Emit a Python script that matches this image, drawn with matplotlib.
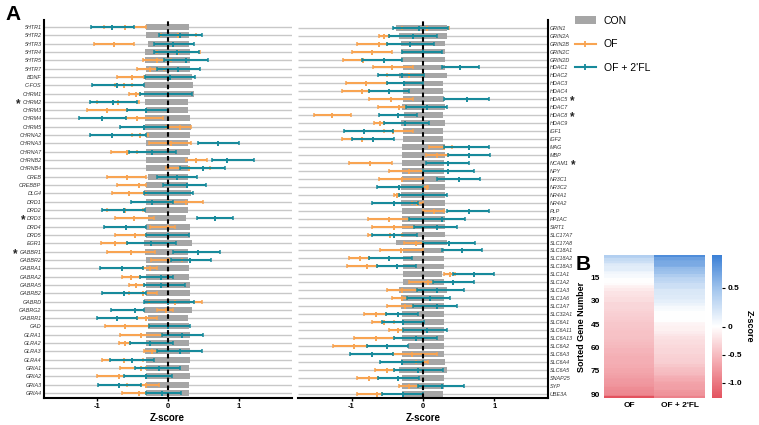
import numpy as np
import matplotlib
matplotlib.use("Agg")
import matplotlib.pyplot as plt
from matplotlib.colors import LinearSegmentedColormap, TwoSlopeNorm
from matplotlib.patches import Patch
from matplotlib.lines import Line2D

plt.rcParams['font.family'] = ['Liberation Sans', 'DejaVu Sans']

# ---------------- data: left panel ----------------
genes_left = ['5HTR1','5HTR2','5HTR3','5HTR4','5HTR5','5HTR7','BDNF','C-FOS','CHRM1','CHRM2',
              'CHRM3','CHRM4','CHRM5','CHRNA2','CHRNA3','CHRNA7','CHRNB2','CHRNB4','CREB','CREBBP',
              'DLG4','DRD1','DRD2','DRD3','DRD4','DRD5','EGR1','GABBR1','GABBR2','GABRA1',
              'GABRA2','GABRA5','GABRB2','GABRD','GABRG2','GABRR1','GAD','GLRA1','GLRA2','GLRA3',
              'GLRA4','GRIA1','GRIA2','GRIA3','GRIA4']
star_left = ['CHRM2', 'DRD3', 'GABBR1']
con_lo_left = [-0.30,-0.31,-0.28,-0.32,-0.32,-0.31,-0.32,-0.34,-0.33,-0.32,
               -0.30,-0.32,-0.32,-0.30,-0.30,-0.30,-0.30,-0.31,-0.28,-0.30,
               -0.33,-0.30,-0.32,-0.28,-0.30,-0.30,-0.34,-0.32,-0.30,-0.30,
               -0.30,-0.30,-0.30,-0.34,-0.34,-0.28,-0.28,-0.30,-0.30,-0.32,
               -0.30,-0.30,-0.30,-0.30,-0.30]
con_hi_left = [0.30,0.30,0.30,0.32,0.32,0.31,0.34,0.36,0.37,0.29,
               0.28,0.32,0.33,0.31,0.29,0.31,0.29,0.29,0.28,0.29,
               0.33,0.29,0.29,0.26,0.31,0.31,0.34,0.29,0.29,0.30,
               0.30,0.31,0.31,0.32,0.34,0.29,0.30,0.31,0.30,0.32,
               0.32,0.30,0.32,0.30,0.30]
of_lo_left = [-0.90,-0.10,-1.04,-0.15,-0.35,-0.44,-0.71,-0.75,-0.55,-1.00,
              -1.14,-0.59,-0.02,-0.50,-0.26,-0.80,0.25,-0.03,-0.86,-0.71,
              -0.78,0.00,-0.85,-0.74,-0.25,-0.75,-0.94,-0.85,-0.23,-0.35,
              -0.65,-0.55,-0.55,-0.27,-0.15,-0.43,-0.88,-0.67,-0.69,-0.33,
              -0.93,-0.67,-1.00,-0.58,-0.65]
of_mid_left = [-0.60,0.15,-0.76,0.15,-0.15,-0.25,-0.50,-0.62,-0.45,-0.70,
               -0.86,-0.44,0.17,-0.39,0.04,-0.57,0.40,0.30,-0.58,-0.41,
               -0.55,0.26,-0.60,-0.47,0.00,-0.46,-0.75,-0.52,0.00,-0.25,
               -0.52,-0.45,-0.35,0.10,-0.02,-0.30,-0.60,-0.37,-0.60,-0.22,
               -0.62,-0.37,-0.68,-0.30,-0.41]
of_hi_left = [-0.31,0.40,-0.47,0.46,0.05,-0.05,-0.33,-0.50,-0.39,-0.40,
              -0.58,-0.07,0.33,-0.28,0.33,-0.44,0.55,0.60,-0.30,-0.30,
              -0.30,0.50,-0.35,-0.20,0.10,-0.30,-0.58,-0.18,0.20,-0.15,
              -0.39,-0.34,-0.15,0.48,0.07,-0.15,-0.27,-0.08,-0.53,-0.15,
              -0.35,-0.30,-0.30,-0.13,-0.30]
fl_lo_left = [-1.08,-0.12,-0.19,-0.19,-0.05,-0.15,-0.32,-1.06,-0.39,-1.09,
              -0.58,-1.25,-0.67,-1.10,0.42,-0.54,0.62,0.17,-0.15,-0.06,
              -0.34,-0.52,-0.92,0.41,-0.90,-0.30,-0.58,0.08,0.05,-0.95,
              -0.39,-0.34,-0.93,-0.34,-0.80,-0.99,-0.27,-0.08,-0.53,-0.15,
              -0.81,-0.46,-0.62,-0.98,-0.30]
fl_mid_left = [-0.79,0.17,0.08,0.13,0.25,0.15,0.03,-0.71,0.00,-0.77,
               -0.30,-0.92,-0.34,-0.79,0.71,-0.22,0.83,0.49,0.13,0.27,
               0.00,-0.22,-0.62,0.67,-0.59,0.00,-0.23,0.42,0.32,-0.65,
               -0.10,-0.10,-0.62,0.00,-0.46,-0.71,0.00,0.20,-0.25,0.17,
               -0.50,-0.13,-0.30,-0.68,-0.08]
fl_hi_left = [-0.48,0.48,0.37,0.44,0.57,0.46,0.38,-0.34,0.34,-0.44,
              0.00,-0.59,0.00,-0.30,1.00,0.11,1.21,0.81,0.41,0.54,
              0.35,0.08,-0.32,0.92,-0.30,0.30,0.11,0.74,0.61,-0.35,
              0.08,0.24,-0.30,0.37,-0.33,-0.43,0.31,0.50,0.07,0.48,
              -0.19,0.17,0.06,-0.37,0.19]

# ---------------- data: right panel ----------------
genes_right = ['GRIN1','GRIN2A','GRIN2B','GRIN2C','GRIN2D','HDAC1','HDAC2','HDAC3','HDAC4','HDAC5',
               'HDAC7','HDAC8','HDAC9','IGF1','IGF2','MAG','MBP','NCAM1','NPY','NR3C1',
               'NR3C2','NR4A1','NR4A2','PLP','PP1AC','SIRT1','SLC17A7','SLC17A8','SLC18A1','SLC18A2',
               'SLC18A3','SLC1A1','SLC1A2','SLC1A3','SLC1A6','SLC1A7','SLC32A1','SLC6A1','SLC6A11','SLC6A13',
               'SLC6A2','SLC6A3','SLC6A4','SLC6A5','SNAP25','SYP','UBE3A']
star_right = ['HDAC5', 'HDAC8', 'NCAM1']
con_lo_right = [-0.38,-0.33,-0.31,-0.31,-0.31,-0.28,-0.33,-0.28,-0.28,-0.28,
                -0.30,-0.26,-0.31,-0.28,-0.28,-0.29,-0.29,-0.29,-0.29,-0.29,
                -0.31,-0.31,-0.31,-0.29,-0.29,-0.29,-0.29,-0.38,-0.28,-0.28,
                -0.28,-0.28,-0.28,-0.33,-0.31,-0.31,-0.29,-0.29,-0.29,-0.29,
                -0.21,-0.29,-0.31,-0.34,-0.29,-0.29,-0.29]
con_hi_right = [0.33,0.33,0.31,0.31,0.31,0.31,0.33,0.28,0.28,0.30,
                0.31,0.28,0.31,0.28,0.28,0.31,0.31,0.29,0.29,0.31,
                0.31,0.31,0.31,0.31,0.31,0.31,0.31,0.33,0.29,0.29,
                0.29,0.27,0.29,0.33,0.29,0.29,0.30,0.30,0.30,0.30,
                0.29,0.30,0.31,0.34,0.30,0.30,0.28]
of_lo_right = [-0.30,-0.62,-0.93,-0.99,-1.12,-0.70,-0.50,-1.08,-1.14,-0.75,
               -0.63,-1.52,-0.68,-0.54,-1.14,0.08,0.04,-1.03,-0.47,-0.61,
               0.00,-0.40,-0.15,0.00,-0.77,-0.71,-0.77,-0.26,-0.60,-1.03,
               -1.06,0.30,-0.19,-0.51,-0.43,-0.51,-0.82,-0.72,-0.48,-0.97,
               -1.26,-0.42,-0.10,-0.67,-0.92,-0.33,-0.93]
of_mid_right = [0.05,-0.55,-0.61,-0.71,-0.84,-0.43,-0.20,-0.80,-0.86,-0.45,
                -0.34,-1.27,-0.60,-0.42,-0.85,0.30,0.20,-0.74,-0.20,-0.30,
                0.05,-0.36,-0.08,0.15,-0.48,-0.41,-0.46,-0.10,-0.31,-0.88,
                -0.78,0.38,0.07,-0.30,-0.30,-0.25,-0.66,-0.55,-0.35,-0.66,
                -0.97,-0.15,0.00,-0.50,-0.75,-0.20,-0.65]
of_hi_right = [0.36,-0.48,-0.50,-0.43,-0.55,-0.14,0.00,-0.51,-0.76,-0.14,
               -0.25,-1.01,-0.54,-0.14,-0.70,0.40,0.35,-0.44,0.00,0.00,
               0.07,-0.33,0.00,0.30,-0.19,-0.12,-0.30,0.00,0.00,-0.75,
               -0.65,0.45,0.14,-0.09,-0.23,-0.14,-0.52,-0.41,-0.28,-0.40,
               -0.79,0.19,0.07,-0.40,-0.63,-0.07,-0.57]
fl_lo_right = [-0.42,-0.48,-0.50,-0.30,-0.86,0.26,-0.63,-0.51,-0.76,0.30,
               -0.24,-0.61,-0.54,-1.10,-0.99,0.30,0.35,0.04,0.00,0.19,
               -0.65,-0.33,-0.72,0.33,-0.19,-0.12,-0.72,0.00,0.26,-0.75,
               -0.65,0.42,0.14,-0.09,-0.23,-0.14,-0.52,-0.58,-0.28,-0.40,
               -0.79,-1.02,-0.60,-0.40,-0.63,-0.07,-0.57]
fl_mid_right = [-0.06,-0.14,-0.18,0.00,-0.55,0.52,-0.30,-0.26,-0.48,0.62,
                0.05,-0.35,-0.25,-0.82,-0.70,0.64,0.64,0.35,0.35,0.50,
                -0.33,0.00,-0.41,0.65,0.26,0.19,-0.41,0.36,0.54,-0.47,
                -0.36,0.71,0.42,0.20,0.10,0.19,-0.35,-0.28,0.05,-0.10,
                -0.51,-0.72,-0.30,-0.07,-0.35,0.26,-0.28]
fl_hi_right = [0.35,0.19,0.15,0.27,-0.30,0.79,0.02,0.00,-0.19,0.92,
               0.33,-0.09,0.09,-0.42,-0.40,0.93,0.94,0.64,0.72,0.80,
               0.00,0.34,-0.07,0.93,0.59,0.48,-0.09,0.73,0.82,-0.16,
               -0.10,0.99,0.71,0.57,0.38,0.48,-0.07,0.02,0.33,0.20,
               -0.21,-0.42,0.00,0.28,-0.05,0.57,0.00]

heat_cols = ['OF', "OF + 2'FL"]
heat_yticks = [15, 30, 45, 60, 75, 90]
cbar_ticks = [0.5, 0, -0.5, -1.0]
xticks_main = [-1, 0, 1]

# ---------------- style ----------------
C_CON = '#a6a6a6'
C_OF = '#f8a452'
C_FL = '#178a9b'
C_ROW = '#c8c8c8'

W, H = 759, 425
fig = plt.figure(figsize=(W / 100, H / 100), dpi=100)

def draw_panel(ax, genes, con_lo, con_hi, of_lo, of_mid, of_hi, fl_lo, fl_mid, fl_hi, side, ylim):
    n = len(genes)
    y = np.arange(n)
    ax.set_xlim(-1.75, 1.75)
    ax.set_ylim(*ylim)
    ax.hlines(y, -1.75, 1.75, color=C_ROW, lw=1.0, zorder=1)
    ax.barh(y, np.array(con_hi) - np.array(con_lo), left=con_lo, height=0.72,
            color=C_CON, zorder=2)
    for lo, mid, hi, col, z in [(of_lo, of_mid, of_hi, C_OF, 3), (fl_lo, fl_mid, fl_hi, C_FL, 4)]:
        ax.hlines(y, lo, hi, color=col, lw=1.5, zorder=z)
        ax.plot(lo, y, ls='none', marker='|', ms=3.2, mew=1.1, color=col, zorder=z)
        ax.plot(hi, y, ls='none', marker='|', ms=3.2, mew=1.1, color=col, zorder=z)
        ax.plot(mid, y, ls='none', marker='|', ms=3.6, mew=1.4, color=col, zorder=z)
    ax.axvline(0, color='black', ls=(0, (2.2, 1.6)), lw=1.5, zorder=6)
    ax.set_yticks(y)
    ax.set_yticklabels(genes, fontsize=3.9, style='italic', color='#333333')
    ax.tick_params(axis='y', length=0, pad=1.5)
    ax.set_xticks(xticks_main)
    ax.set_xticklabels(['-1', '0', '1'], fontsize=5.5, fontweight='bold')
    ax.tick_params(axis='x', length=2.5, width=1, pad=1.5)
    ax.set_xlabel('Z-score', fontsize=7, fontweight='bold', labelpad=2)
    ax.spines['top'].set_visible(False)
    if side == 'left':
        ax.spines['right'].set_visible(False)
        ax.spines['left'].set_linewidth(1.5)
    else:
        ax.spines['left'].set_visible(False)
        ax.spines['right'].set_linewidth(1.5)
        ax.yaxis.tick_right()
    ax.spines['bottom'].set_linewidth(1.5)

ax_bottom = 397.5
ax_top = 20.0
axL = fig.add_axes([43.5 / W, 1 - ax_bottom / H, 248.5 / W, (ax_bottom - ax_top) / H])
draw_panel(axL, genes_left, con_lo_left, con_hi_left, of_lo_left, of_mid_left, of_hi_left,
           fl_lo_left, fl_mid_left, fl_hi_left, 'left', (44.54, -0.84))
axR = fig.add_axes([298 / W, 1 - ax_bottom / H, 250 / W, (ax_bottom - ax_top) / H])
draw_panel(axR, genes_right, con_lo_right, con_hi_right, of_lo_right, of_mid_right, of_hi_right,
           fl_lo_right, fl_mid_right, fl_hi_right, 'right', (46.48, -0.97))

# stars next to significant gene labels
fig.canvas.draw()
renderer = fig.canvas.get_renderer()
for ax, genes, stars, side in [(axL, genes_left, star_left, 'left'), (axR, genes_right, star_right, 'right')]:
    labs = ax.get_yticklabels()
    for lab, g in zip(labs, genes):
        if g in stars:
            bb = lab.get_window_extent(renderer)
            yc = (bb.y0 + bb.y1) / 2
            xs = bb.x0 - 4 if side == 'left' else bb.x1 + 4
            fig.text(xs / W, yc / H - 0.004, '*', fontsize=8.5, fontweight='bold',
                     ha='center', va='center', color='#222222')

# legend
handles = [Patch(facecolor=C_CON, edgecolor='none'),
           Line2D([0], [0], color=C_OF, lw=1.5, marker='|', ms=4, mew=1.3),
           Line2D([0], [0], color=C_FL, lw=1.5, marker='|', ms=4, mew=1.3)]
fig.legend(handles, ['CON', 'OF', "OF + 2'FL"], loc='upper left', bbox_to_anchor=(0.745, 0.985),
           frameon=False, fontsize=7.5, handlelength=2.0, labelspacing=1.3, handletextpad=0.8)

# heatmap panel B
of_all = np.sort(np.concatenate([of_mid_left, of_mid_right]))[::-1]
fl_all = np.sort(np.concatenate([fl_mid_left, fl_mid_right]))[::-1]
mat = np.column_stack([of_all, fl_all])
n_all = len(of_all)
cmap = LinearSegmentedColormap.from_list('rwb', ['#e3535f', '#f4aab0', '#ffffff', '#a7c8ee', '#3b80d6'])
norm = TwoSlopeNorm(vmin=-1.27, vcenter=0.0, vmax=0.92)
axH = fig.add_axes([604 / W, 27 / H, 101 / W, 143 / H])
im = axH.imshow(mat, aspect='auto', cmap=cmap, norm=norm,
                extent=(-0.5, 1.5, n_all + 0.5, 0.5), interpolation='nearest')
axH.set_xticks([0, 1])
axH.set_xticklabels(heat_cols, fontsize=6, fontweight='bold')
axH.set_yticks(heat_yticks)
axH.set_yticklabels([str(v) for v in heat_yticks], fontsize=6, fontweight='bold')
axH.set_ylabel('Sorted Gene Number', fontsize=6.5, fontweight='bold', labelpad=3)
axH.tick_params(length=0, pad=3)
for s in axH.spines.values():
    s.set_visible(False)

axC = fig.add_axes([712 / W, 27 / H, 10 / W, 143 / H])
cb = fig.colorbar(im, cax=axC, ticks=cbar_ticks)
cb.ax.set_yticklabels(['0.5', '0', '-0.5', '-1.0'], fontsize=6, fontweight='bold')
cb.ax.tick_params(length=2, pad=2)
cb.outline.set_visible(False)
cb.set_label('Z-score', fontsize=6.5, fontweight='bold', rotation=270, labelpad=8)

fig.text(5 / W, 1 - 15 / H, 'A', fontsize=15, fontweight='bold', va='center', ha='left')
fig.text(576 / W, 1 - 265 / H, 'B', fontsize=15, fontweight='bold', va='center', ha='left')

fig.savefig('out.png', dpi=100)
